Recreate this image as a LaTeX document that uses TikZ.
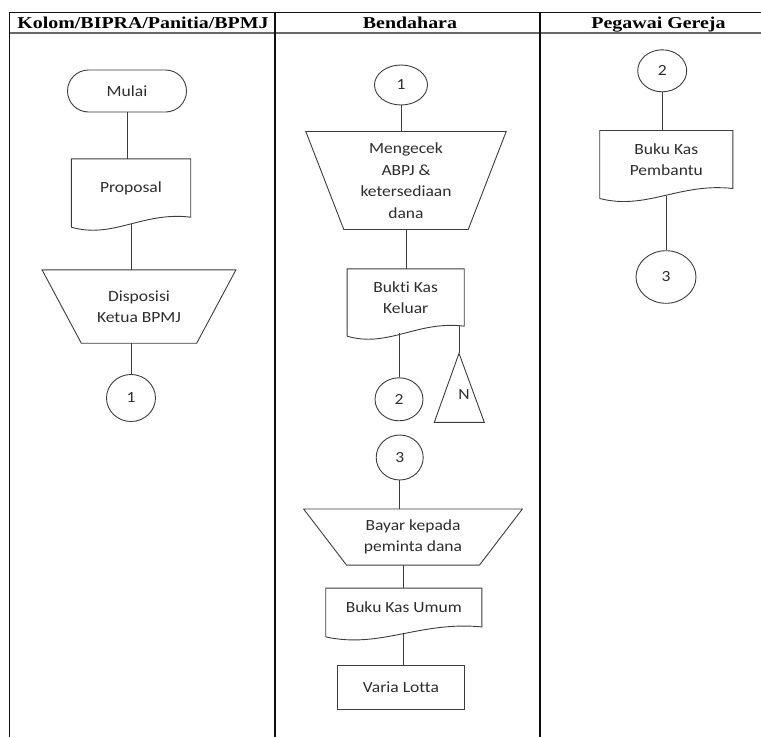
\documentclass[tikz,border=0pt]{standalone}
\usepackage{fontspec}
\usepackage{tikz}
\usetikzlibrary{shapes.geometric, shapes.misc, calc}
\newfontfamily\bodyfamily[FakeStretch=1.13, Ligatures=CommonOff]{Carlito}
\newfontfamily\headfamily[FakeStretch=1.2]{Liberation Serif}
\newcommand{\bodytext}{\bodyfamily\fontsize{15.5pt}{21.5pt}\selectfont}
\newcommand{\headtext}{\headfamily\bfseries\fontsize{16.6pt}{18pt}\selectfont}
\def\wavedrop{10}
\definecolor{outline}{RGB}{60, 60, 60}
\definecolor{gridline}{RGB}{15, 15, 15}
\definecolor{headrule}{RGB}{105, 105, 105}
\definecolor{bodyink}{RGB}{45, 45, 45}
\tikzstyle{flowline} = [draw=outline, line width=0.9pt]
\tikzstyle{connector} = [outline, -, line width=0.9pt]
\tikzstyle{gridrule} = [gridline, line width=1.5pt]
\tikzstyle{headcell} = [anchor=base, inner sep=0pt, font=\headtext]
\tikzstyle{terminal} = [flowline, rounded rectangle, inner sep=0pt, text=bodyink, font=\bodytext]
\tikzstyle{procbox} = [flowline, rectangle, inner sep=0pt, text=bodyink, font=\bodytext]
\tikzstyle{flagtext} = [inner sep=0pt, text=bodyink, font=\bodytext]
\tikzset{
  onpage/.style 2 args={flowline, ellipse, minimum width=#1, minimum height=#2, inner sep=0pt, text=bodyink, font=\bodytext},
  docbox/.style 2 args={minimum width=#1, minimum height=#2, inner sep=0pt, align=center, text=bodyink, font=\bodytext,
    append after command={\pgfextra{\let\docnode\tikzlastnode
      \draw[flowline] ($(\docnode.south west)+(0,\wavedrop)$) -- (\docnode.north west)
        -- (\docnode.north east) -- (\docnode.south east)
        .. controls ($(\docnode.south west)!0.6!(\docnode.south east)+(0,-6)$)
        and ($(\docnode.south west)!0.35!(\docnode.south east)+(0,22)$)
        .. ($(\docnode.south west)+(0,\wavedrop)$);
      \coordinate (\docnode-w) at ($(\docnode.south)+(0,7)$);}}},
  manop/.style n args={3}{minimum width=#1, minimum height=#2, inner sep=0pt, align=center, text=bodyink, font=\bodytext,
    append after command={\pgfextra{\let\opnode\tikzlastnode
      \draw[flowline] ($(\opnode.north west)+(-#3,0)$) -- ($(\opnode.north east)+(#3,0)$)
        -- (\opnode.south east) -- (\opnode.south west) -- cycle;}}}
}

\begin{document}
\begin{tikzpicture}[x=1pt, y=-1pt]
    \useasboundingbox (0,0) rectangle (761,737);

    % table
    \draw[gridrule, line width=1pt] (9.5,12) -- (761,12);
    \draw[headrule, line width=2pt] (9.5,33) -- (761,33);
    \foreach \colx in {9.5, 275, 540}
      \draw[gridrule] (\colx,12) -- (\colx,737);

    % column heads
    \node[headcell] (headkolom) at (143,28.3)   {Kolom/BIPRA/Panitia/BPMJ};
    \node[headcell] (headbend)  at (410,28.3)   {Bendahara};
    \node[headcell] (headpeg)   at (658.5,28.3) {Pegawai Gereja};

    % nodes, kolom
    \node[terminal, minimum width=119, minimum height=42] (mulai) at (127,91) {Mulai};
    \node[docbox={119}{58}] (proposal) at (131,188) {Proposal};
    \node[manop={115}{73}{39.25}] (dispo) at (139,306.5) {Disposisi\\Ketua BPMJ};
    \node[onpage={49}{47}] (satuA) at (131,398) {1};

    % nodes, bendahara
    \node[onpage={53}{40}] (satuB) at (401,85) {1};
    \node[manop={124}{97.6}{38}] (cek) at (406,180.5) {Mengecek\\ABPJ \&\\ketersediaan\\dana};
    \node[docbox={116.7}{57}] (bukti) at (405.7,297.5) {Bukti Kas\\Keluar};
    \node[onpage={48}{43}] (duaA) at (399,399.3) {2};
    \coordinate (ntop) at (459,353.3);
    \node[flagtext] (nflag) at (464,395) {N};
    \node[onpage={47}{45}] (tigaB) at (399.7,457.5) {3};
    \node[manop={132.6}{55.7}{42.9}] (bayar) at (413,537) {Bayar kepada\\peminta dana};
    \node[docbox={155.7}{38.4}] (umum) at (403.8,607.5) {Buku Kas Umum};
    \node[procbox, minimum width=126.6, minimum height=44] (varia) at (401,687) {Varia Lotta};

    % nodes, pegawai
    \node[onpage={49}{42}] (duaB) at (662.2,70.8) {2};
    \node[docbox={132.7}{57.6}] (pembantu) at (666.3,159.5) {Buku Kas\\Pembantu};
    \node[onpage={60}{52.6}] (tigaA) at (666,277) {3};

    % off-page flag
    \draw[flowline] (ntop) -- (434.3,422.3) -- (484.3,422.3) -- cycle;

    % connectors
    \draw[connector] (mulai.south) -- (mulai.south |- proposal.north);
    \draw[connector] (proposal-w) -- (proposal-w |- dispo.north);
    \draw[connector] (satuA.north |- dispo.south) -- (satuA.north);
    \draw[connector] (satuB.south) -- (satuB.south |- cek.north);
    \draw[connector] (cek.south) -- (cek.south |- bukti.north);
    \draw[connector] (duaA.north |- bukti-w) -- (duaA.north);
    \draw[connector] (bukti.south -| ntop) -- (ntop);
    \draw[connector] (tigaB.south) -- (tigaB.south |- bayar.north);
    \draw[connector] (umum.north |- bayar.south) -- (umum.north);
    \draw[connector] (umum-w) -- (umum-w |- varia.north);
    \draw[connector] (duaB.south) -- (duaB.south |- pembantu.north);
    \draw[connector] (pembantu-w) -- (pembantu-w |- tigaA.north);
\end{tikzpicture}
\end{document}
